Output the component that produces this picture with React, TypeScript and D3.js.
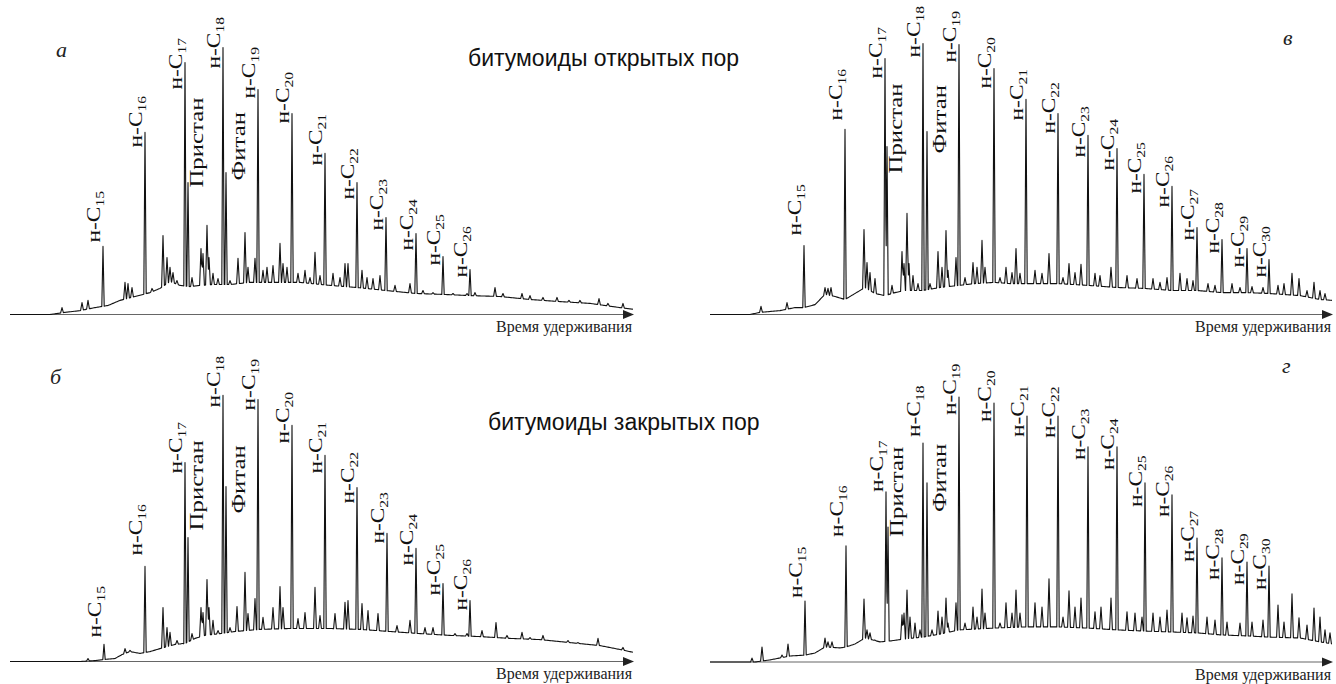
import React from "react";
import * as d3 from "d3";

const W = 1336;
const H = 684;

// ---------- text ----------
const TITLES = ["битумоиды открытых пор", "битумоиды закрытых пор"];
const AXIS_LABEL = "Время удерживания";
const ISO_NAMES = ["Пристан", "Фитан"];
const PANEL_LETTERS = ["а", "в", "б", "г"];

// ---------- n-alkane numbers ----------
const ALK_SHORT = [15, 16, 17, 18, 19, 20, 21, 22, 23, 24, 25, 26];
const ALK_LONG = [15, 16, 17, 18, 19, 20, 21, 22, 23, 24, 25, 26, 27, 28, 29, 30];

// ---------- panel а (open pores, short) ----------
const A_PEAK_T = [9.3, 13.5, 17.5, 21.3, 24.8, 28.2, 31.5, 34.7, 37.6, 40.6, 43.3, 46.0];
const A_PEAK_H = [22.7, 60.7, 84, 89, 75, 67, 53.7, 44, 32.3, 27, 19.3, 15];
const A_LABEL = [24, 55.7, 75, 82, 72, 63.7, 49.7, 38.3, 28, 21.3, 16.3, 12.3];
const A_ISO_T = [17.8, 21.6];
const A_ISO_H = [44, 47.3];
const A_ISO_LABEL = [42.3, 44.7];
const A_BASE: [number, number][] = [
  [0, 0], [4, 0], [5.5, 0.7], [7, 1.3], [8.5, 2.3], [9.8, 3], [11, 4.7], [12.5, 6], [14, 7.3],
  [15, 8.7], [16, 11], [17, 9.7], [18, 9.3], [19, 9.7], [20.5, 10], [22, 10], [24, 10.7],
  [26, 10.7], [29, 10.7], [32, 9.7], [34.7, 9], [37.6, 8], [40.6, 7], [43.3, 6.7], [46, 6.3],
  [49, 6], [52, 5], [55, 4.3], [58, 3.7], [61, 2.3], [62.4, 1.7],
];
const A_MINOR: [number, number][] = [
  [5.2, 2.3], [7.2, 4], [7.8, 4.7], [11.5, 10.7], [11.8, 10.3], [12.2, 9], [14.2, 8.7], [14.7, 7.3],
  [15.3, 26.3], [15.7, 19], [16, 15.7], [16.3, 14], [16.7, 11.3], [18.2, 12.3], [19.1, 22],
  [19.3, 20.3], [19.7, 29.7], [19.9, 19], [20.3, 13.7], [20.8, 12], [22, 11.3], [22.8, 18.7],
  [23.5, 27.3], [23.8, 15.7], [24.5, 18.7], [25.3, 14.7], [25.7, 15.7], [26.3, 16.3], [27, 23.7],
  [27.3, 17], [27.7, 15.7], [28.8, 13.7], [29.5, 14.7], [30, 12.3], [30.5, 20.7], [31, 13],
  [32.3, 13.7], [33, 12.3], [33.5, 17], [33.8, 17], [35.2, 14.7], [35.7, 12.3], [36.3, 12],
  [37, 13], [38.5, 9.7], [40, 10.3], [41.3, 8], [42.3, 7.3], [44.3, 7], [45.7, 7], [46.5, 7.3],
  [48.5, 9], [49.3, 7], [51.2, 7], [52, 6.3], [53.3, 5.7], [54.7, 5.7], [55.9, 4.7], [57, 4.7],
  [58.9, 5.3], [59.8, 3.7], [61.3, 3.7],
];

// ---------- panel б (closed pores, short) ----------
const B_PEAK_T = [9.4, 13.5, 17.5, 21.3, 24.8, 28.2, 31.5, 34.7, 37.7, 40.6, 43.3, 46.0];
const B_PEAK_H = [5.7, 31.7, 66.3, 88.7, 87.3, 78.7, 68.7, 58, 42.7, 37.7, 26, 20.3];
const B_LABEL = [8, 35.3, 62.7, 84.7, 83.7, 72.7, 62.7, 52.7, 39.3, 32, 22, 17];
const B_ISO_T = [17.8, 21.6];
const B_ISO_H = [41.3, 58.3];
const B_ISO_LABEL = [43.7, 49.3];
const B_BASE: [number, number][] = [
  [0, 0], [7, 0], [8.5, 0.3], [9.5, 0.7], [10.5, 1], [11.2, 2.3], [12, 3.3], [13, 2.7], [14, 3.3],
  [15, 4.3], [16.5, 5.7], [17.5, 6], [18.5, 7.7], [19.5, 8.7], [21, 9.3], [22.5, 10], [25, 10.7],
  [28, 11], [32, 11], [35, 10.7], [38, 10], [41, 9.3], [44, 8.7], [47, 8.3], [50, 7.7], [53, 7.3],
  [56, 6.3], [59, 5.3], [61, 4], [62.4, 3],
];
const B_MINOR: [number, number][] = [
  [7.8, 1], [11.5, 4.3], [12, 3.7], [15.3, 18], [15.7, 11.3], [16, 9.7], [16.7, 7], [17.2, 6],
  [18.2, 9.3], [19.1, 18], [19.3, 16.3], [19.7, 27.3], [19.9, 18], [20.3, 13.7], [20.8, 10.3],
  [22, 11.3], [22.7, 18.3], [23.5, 29.7], [23.8, 16], [24.5, 21], [25.3, 14.7], [26.3, 18],
  [27, 25], [27.3, 18], [28.8, 14.3], [29.5, 16.3], [30.5, 24.7], [31, 15.3], [32.5, 16],
  [33.5, 19.7], [33.8, 20.3], [35.2, 19.3], [35.8, 17], [36.8, 16], [38.7, 12], [40, 13.7],
  [41.5, 11.3], [42.3, 11.3], [44.5, 9.3], [45.7, 9.3], [47.2, 10.3], [48.6, 13], [49.7, 8.7],
  [51.2, 9.7], [52, 8], [53.3, 8.7], [55.8, 7], [56.8, 6.3], [58.8, 7.7], [61.3, 4.7],
];

// ---------- panel в (open pores, long) ----------
const V_PEAK_T = [9.4, 13.5, 17.5, 21.3, 24.9, 28.4, 31.6, 34.8, 37.8, 40.7, 43.4, 46.2, 48.7, 51.2, 53.7, 55.9];
const V_PEAK_H = [23, 61.7, 85.3, 90.3, 90, 82, 71.7, 67, 59.7, 55.3, 46.7, 42.7, 29, 25, 22, 18.3];
const V_LABEL = [26.3, 64.7, 78.7, 85.7, 84, 75.3, 64.7, 60.3, 52.3, 48, 40.3, 35.7, 24.7, 20.3, 15.7, 12.3];
const V_ISO_T = [17.7, 21.7];
const V_ISO_H = [56, 61];
const V_ISO_LABEL = [47, 53.7];
const V_BASE: [number, number][] = [
  [0, 0], [4, 0], [5, 0.7], [7, 1.3], [8.5, 2.3], [9.4, 2.3], [10.5, 3.3], [11.5, 6.7], [12.5, 6],
  [13.5, 5], [14.5, 7], [15.5, 9], [16.5, 7], [17.5, 6.3], [18.5, 7.3], [19.5, 8], [21.3, 8],
  [23, 9], [24.9, 9.7], [26.5, 10.3], [28.4, 10.7], [30, 10.3], [31.6, 10.3], [34.8, 10.3],
  [37.8, 9.7], [40.7, 9], [43.4, 8.7], [46.2, 8], [48.7, 8], [51.2, 7.3], [53.7, 7.3], [55.9, 7],
  [59, 6.3], [61, 5], [62.3, 4.7],
];
const V_MINOR: [number, number][] = [
  [5.1, 2.7], [7.7, 4], [11.5, 9], [11.8, 8.7], [12.1, 9], [14.3, 6.3], [15.4, 28.3], [15.7, 17.3],
  [16, 14], [16.5, 12], [18.2, 9.7], [19.2, 21], [19.4, 17], [19.7, 33.7], [19.9, 17], [20.3, 13],
  [20.8, 10.3], [22, 10.3], [22.8, 21], [23.2, 15.7], [23.6, 28], [23.8, 14.7], [24.6, 19],
  [25.5, 12.3], [26.3, 17.3], [26.7, 15.7], [27.2, 24.7], [27.5, 15.7], [29, 12.3], [29.6, 15.7],
  [30.2, 14], [30.6, 22], [31, 13.7], [32.5, 14.7], [33.2, 13.7], [33.9, 20.3], [35.3, 12.3],
  [35.9, 17], [36.5, 14], [37.1, 16.7], [38.5, 13.7], [39, 13], [40.1, 15.7], [41.7, 13],
  [42.7, 12], [44.3, 12], [45, 10.7], [45.7, 12.3], [47, 13.7], [47.7, 12], [48.3, 11.3],
  [49.8, 10.3], [50.5, 9.7], [52.2, 10.3], [53, 9], [54.2, 9.3], [55.3, 9], [56.8, 9.7],
  [57.4, 10.3], [58.2, 13.7], [58.9, 12], [59.7, 8], [60.4, 10.7], [61, 8], [61.5, 7],
];

// ---------- panel г (closed pores, long) ----------
const G_PEAK_T = [9.5, 13.6, 17.6, 21.3, 24.9, 28.4, 31.7, 34.8, 37.8, 40.7, 43.5, 46.2, 48.7, 51.2, 53.7, 55.9];
const G_PEAK_H = [20.3, 38.7, 56.7, 73, 88.3, 86.3, 82, 82, 71.7, 71.7, 59.7, 55.7, 41.3, 34.7, 33.3, 32];
const G_LABEL = [21.3, 41.7, 56.7, 75, 82.3, 80, 75, 74.7, 67.3, 64, 51.7, 48.3, 33.3, 27.3, 25.7, 24];
const G_ISO_T = [17.8, 21.7];
const G_ISO_H = [45, 59.7];
const G_ISO_LABEL = [41.7, 50];
const G_BASE: [number, number][] = [
  [0, 0], [4.5, 0], [6, 0.7], [8, 2], [9.5, 2.3], [10.5, 3], [11.5, 5], [13, 4.7], [13.6, 5],
  [14.5, 6], [15.5, 8], [17, 6.7], [18, 7], [19.5, 7.7], [21.3, 8.3], [23, 9.3], [24.9, 10.7],
  [28.4, 11.3], [31.6, 11.7], [34.8, 11.7], [37.8, 11.3], [40.7, 10.7], [43.5, 10.3], [46.2, 10],
  [48.7, 9.7], [51.2, 9], [53.7, 8.7], [55.9, 8.3], [59, 8], [61, 6.7], [62.3, 6],
];
const G_MINOR: [number, number][] = [
  [4.2, 1.3], [5.2, 5], [7.2, 2.3], [7.8, 6], [11.5, 8], [11.8, 6.7], [12.2, 6.7], [15.4, 21],
  [15.7, 10.7], [16, 9.7], [16.5, 7.3], [18.7, 6.7], [19.2, 15.7], [19.4, 16.3], [19.7, 24],
  [20, 15], [20.5, 13], [21, 10.7], [22.2, 10.7], [22.8, 17], [23.2, 15], [23.6, 21.3], [23.8, 13],
  [24.6, 19.7], [25.5, 13], [26.3, 18.3], [26.7, 15], [27.2, 24.3], [27.5, 16.3], [29, 13],
  [29.6, 19.7], [30.2, 16.3], [30.6, 24], [31, 16.3], [32.5, 19.7], [33.2, 18.3], [33.9, 27.7],
  [35.3, 15], [35.9, 23.7], [36.5, 18.3], [37.1, 21.3], [38.5, 16.7], [39.1, 18.3], [40.1, 21.3],
  [41.7, 16.7], [42.5, 16.3], [43.2, 15], [44.3, 16.3], [45, 15], [45.7, 17.3], [47.2, 16.3],
  [47.7, 14.7], [48.3, 15.3], [49.7, 15], [50.5, 14], [51.7, 13.3], [53, 13], [54.2, 13.3],
  [55.3, 14], [56.8, 19], [57.4, 13.3], [58.2, 22.7], [58.9, 14.7], [59.7, 12.3], [60.4, 18],
  [61, 15], [61.5, 10.7], [62, 9.7],
];

// ---------- layout ----------
const SERIF = "'Liberation Serif', 'Times New Roman', serif";
const SANS = "'Liberation Sans', Arial, sans-serif";

const PANELS = [
  { letter: PANEL_LETTERS[0], lx: 56, ly: 57, x0: 10, x1: 634, y0: 314.5, tMax: 62.4,
    alk: ALK_SHORT, pt: A_PEAK_T, ph: A_PEAK_H, pl: A_LABEL, it: A_ISO_T, ih: A_ISO_H, il: A_ISO_LABEL,
    base: A_BASE, minor: A_MINOR },
  { letter: PANEL_LETTERS[1], lx: 1283, ly: 45, x0: 710, x1: 1333, y0: 314.5, tMax: 62.3,
    alk: ALK_LONG, pt: V_PEAK_T, ph: V_PEAK_H, pl: V_LABEL, it: V_ISO_T, ih: V_ISO_H, il: V_ISO_LABEL,
    base: V_BASE, minor: V_MINOR },
  { letter: PANEL_LETTERS[2], lx: 50, ly: 384, x0: 10, x1: 634, y0: 661.5, tMax: 62.4,
    alk: ALK_SHORT, pt: B_PEAK_T, ph: B_PEAK_H, pl: B_LABEL, it: B_ISO_T, ih: B_ISO_H, il: B_ISO_LABEL,
    base: B_BASE, minor: B_MINOR },
  { letter: PANEL_LETTERS[3], lx: 1282, ly: 373, x0: 710, x1: 1333, y0: 662, tMax: 62.3,
    alk: ALK_LONG, pt: G_PEAK_T, ph: G_PEAK_H, pl: G_LABEL, it: G_ISO_T, ih: G_ISO_H, il: G_ISO_LABEL,
    base: G_BASE, minor: G_MINOR },
];

type Panel = typeof PANELS[number];

function Chromatogram({ p }: { p: Panel }) {
  const x = d3.scaleLinear().domain([0, p.tMax]).range([p.x0, p.x1]);
  const y = d3.scaleLinear().domain([0, 100]).range([p.y0, p.y0 - 300]);
  const baseFn = d3
    .scaleLinear()
    .domain(p.base.map((d) => d[0]))
    .range(p.base.map((d) => d[1]))
    .clamp(true);

  const peaks: { t: number; h: number; w: number }[] = [];
  p.pt.forEach((t, i) => peaks.push({ t, h: p.ph[i], w: 0.12 }));
  p.it.forEach((t, i) => peaks.push({ t, h: p.ih[i], w: 0.12 }));
  p.minor.forEach(([t, h]) => peaks.push({ t, h, w: 0.14 }));

  const tEnd = p.tMax - 0.1;
  const tsSet = new Set<number>();
  for (let i = 0; i * 0.1 <= tEnd + 1e-9; i++) tsSet.add(+(i * 0.1).toFixed(3));
  peaks.forEach((pk) => {
    [-1, -0.5, 0, 0.5, 1].forEach((k) => {
      const t = +(pk.t + k * pk.w).toFixed(3);
      if (t >= 0 && t <= tEnd) tsSet.add(t);
    });
  });
  const ts = Array.from(tsSet).sort((a, b) => a - b);
  const signal = ts.map((t) => {
    let v = baseFn(t);
    for (const pk of peaks) {
      const d = Math.abs(t - pk.t);
      if (d < pk.w) {
        const amp = Math.max(0, pk.h - baseFn(pk.t));
        v += amp * (1 - d / pk.w);
      }
    }
    return [t, v] as [number, number];
  });

  const line = d3
    .line<[number, number]>()
    .x((d) => x(d[0]))
    .y((d) => y(d[1]));

  const arrowLen = 11;
  return (
    <g>
      {/* axis */}
      <line x1={p.x0} x2={p.x1 - arrowLen + 1} y1={p.y0} y2={p.y0} stroke="#666" strokeWidth={1.2} />
      <polygon
        points={`${p.x1},${p.y0} ${p.x1 - arrowLen},${p.y0 - 4.5} ${p.x1 - arrowLen},${p.y0 + 4.5}`}
        fill="#222"
      />
      <text x={p.x1 - 2} y={p.y0 + 17.5} textAnchor="end" fontFamily={SERIF} fontSize={16} fill="#222">
        {AXIS_LABEL}
      </text>
      {/* trace */}
      <path d={line(signal) || ""} fill="none" stroke="#111" strokeWidth={1.1} strokeLinejoin="round" />
      {/* n-alkane labels */}
      {p.alk.map((n, i) => (
        <text
          key={n}
          transform={`translate(${x(p.pt[i]) - 3},${y(p.pl[i])}) rotate(-90) scale(1.3,1)`}
          fontFamily={SERIF}
          fontSize={18}
          fill="#111"
        >
          н-C
          <tspan fontSize={12} dy={4}>
            {n}
          </tspan>
        </text>
      ))}
      {/* isoprenoids */}
      {ISO_NAMES.map((nm, i) => (
        <text
          key={nm}
          transform={`translate(${x(p.it[i]) + (i === 0 ? 15 : 19)},${y(p.il[i])}) rotate(-90) scale(1.38,1)`}
          fontFamily={SERIF}
          fontSize={18}
          fill="#111"
        >
          {nm}
        </text>
      ))}
      {/* panel letter */}
      <text x={p.lx} y={p.ly} fontFamily={SERIF} fontStyle="italic" fontSize={22} fill="#222">
        {p.letter}
      </text>
    </g>
  );
}

export default function App() {
  return (
    <svg
      width={W}
      height={H}
      viewBox={`0 0 ${W} ${H}`}
      style={{ position: "absolute", left: 0, top: 0, background: "#fff", display: "block" }}
    >
      <rect width={W} height={H} fill="#fff" />
      {PANELS.map((p) => (
        <Chromatogram key={p.letter} p={p} />
      ))}
      <text x={468} y={66} fontFamily={SANS} fontSize={23} fill="#111">
        {TITLES[0]}
      </text>
      <text x={488} y={430} fontFamily={SANS} fontSize={23} fill="#111">
        {TITLES[1]}
      </text>
    </svg>
  );
}
